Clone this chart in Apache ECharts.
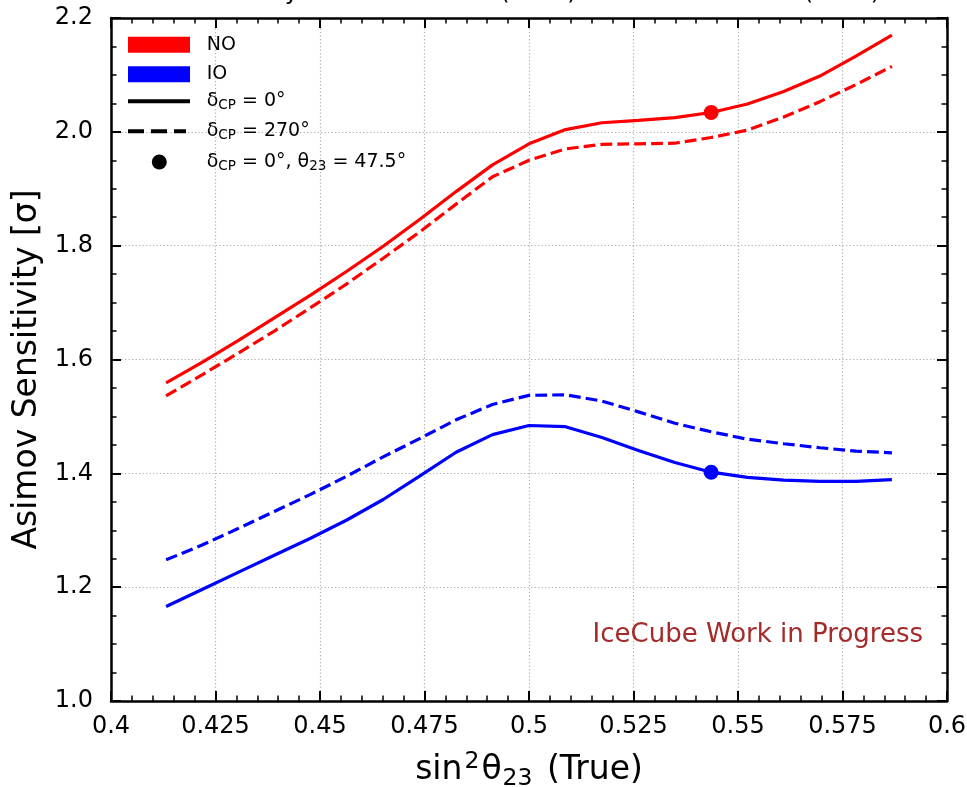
<!DOCTYPE html>
<html>
<head>
<meta charset="utf-8">
<script src="https://cdn.jsdelivr.net/npm/echarts@6/dist/echarts.min.js"></script>
<style>html,body{margin:0;padding:0;background:#fff}#c{width:967px;height:787px}</style>
</head>
<body>
<div id="c"></div>
<script>
// ---- data ----
const sin2Theta23 = [0.41318, 0.42178, 0.43041, 0.43907, 0.44774, 0.45642, 0.46512, 0.47383, 0.48255, 0.49127, 0.50000,
                     0.50873, 0.51745, 0.52617, 0.53490, 0.54358, 0.55226, 0.56093, 0.56959, 0.57822, 0.58682];
const noDelta0   = [1.559, 1.595, 1.633, 1.673, 1.713, 1.755, 1.799, 1.846, 1.895, 1.942, 1.979,
                    2.004, 2.016, 2.020, 2.025, 2.034, 2.049, 2.071, 2.098, 2.133, 2.170];
const noDelta270 = [1.536, 1.573, 1.611, 1.650, 1.691, 1.733, 1.778, 1.824, 1.873, 1.921, 1.950,
                    1.970, 1.978, 1.979, 1.980, 1.990, 2.003, 2.026, 2.053, 2.083, 2.115];
const ioDelta0   = [1.166, 1.196, 1.226, 1.256, 1.286, 1.318, 1.354, 1.395, 1.437, 1.468, 1.484,
                    1.482, 1.463, 1.440, 1.419, 1.402, 1.393, 1.388, 1.386, 1.386, 1.389];
const ioDelta270 = [1.248, 1.274, 1.303, 1.333, 1.363, 1.395, 1.429, 1.461, 1.494, 1.521, 1.537,
                    1.538, 1.527, 1.508, 1.488, 1.473, 1.460, 1.452, 1.445, 1.439, 1.436];
const dotX  = [0.54358];
const dotNO = [2.034];
const dotIO = [1.402];
const xTickValues = [0.4, 0.425, 0.45, 0.475, 0.5, 0.525, 0.55, 0.575, 0.6];
const xTickLabels = ['0.4', '0.425', '0.45', '0.475', '0.5', '0.525', '0.55', '0.575', '0.6'];
const yTickValues = [1.0, 1.2, 1.4, 1.6, 1.8, 2.0, 2.2];
const yTickLabels = ['1.0', '1.2', '1.4', '1.6', '1.8', '2.0', '2.2'];

// ---- chart ----
const FONT = 'DejaVu Sans';
const pairs = (xs, ys) => xs.map((x, i) => [x, ys[i]]);
const pick = (vals, labels) => v => {
  let best = 0;
  for (let i = 1; i < vals.length; i++) if (Math.abs(vals[i] - v) < Math.abs(vals[best] - v)) best = i;
  return labels[best];
};

const axisLine = { show: true, onZero: false, lineStyle: { color: '#000', width: 2.5 } };
const axisTick = { show: true, inside: true, length: 10, lineStyle: { color: '#000', width: 2 } };
const gridLine = { show: true, lineStyle: { color: '#b0b0b0', width: 1.2, type: [1.3, 2.2] } };

const rich = {
  m: { fontSize: 19, fontFamily: FONT, color: '#000', lineHeight: 23 },
  s: { fontSize: 13.5, fontFamily: FONT, color: '#000', lineHeight: 13, verticalAlign: 'bottom' }
};
const legendLabels = {
  'NO': 'NO',
  'IO': 'IO',
  'd0': '{m|δ}{s|CP}{m| = 0°}',
  'd270': '{m|δ}{s|CP}{m| = 270°}',
  'dot': '{m|δ}{s|CP}{m| = 0°, θ}{s|23}{m| = 47.5°}'
};
function legendRow(name, icon, left, top, w, h, padLeft) {
  return {
    data: [{ name: name, icon: icon }],
    left: left, top: top, padding: 0, orient: 'vertical',
    itemWidth: w, itemHeight: h, selectedMode: false,
    formatter: n => legendLabels[n],
    textStyle: { fontSize: 19, fontFamily: FONT, color: '#000', padding: [0, 0, 0, padLeft], rich: rich }
  };
}

const option = {
  animation: false,
  backgroundColor: '#fff',
  title: [
    { text: 'Sensitivity for True Normal (NMO) and True Inverted (NMO)', left: 174, top: -19, padding: 0,
      textStyle: { fontSize: 24, fontWeight: 'normal', fontFamily: FONT, color: '#000' } },
    { text: 'IceCube Work in Progress', right: 44, top: 622, padding: 0,
      textStyle: { fontSize: 26, fontWeight: 'normal', fontFamily: FONT, color: '#a52a2a' } }
  ],
  grid: { left: 111, right: 20, top: 18, bottom: 86, containLabel: false, outerBoundsMode: 'none' },
  legend: [
    legendRow('NO', 'rect', 128, 35.2, 62, 16, 11.7),
    legendRow('IO', 'rect', 128, 64.8, 62, 16, 11.7),
    legendRow('d0', 'rect', 128, 91.8, 62, 4, 11.7),
    legendRow('d270', 'path://M0,0H16V4H0Z M23,0H39V4H23Z M46,0H58V4H46Z', 128, 121.8, 58, 4, 15.7),
    legendRow('dot', 'circle', 151.8, 152.5, 15, 15, 34.9)
  ],
  xAxis: [
    { type: 'value', position: 'bottom', min: 0.4, max: 0.6, interval: 0.025,
      name: '{n|sin}{sup|2}{n|θ}{sub|23}{n| (True)}', nameLocation: 'middle', nameGap: 48.5,
      nameTextStyle: { fontSize: 33, fontFamily: FONT, color: '#000',
        rich: {
          n: { fontSize: 33, fontFamily: FONT, color: '#000', lineHeight: 41 },
          sup: { fontSize: 23.5, fontFamily: FONT, color: '#000', lineHeight: 23, verticalAlign: 'top', padding: [0, 2, 0, 2] },
          sub: { fontSize: 23.5, fontFamily: FONT, color: '#000', lineHeight: 23, verticalAlign: 'bottom', padding: [0, 4, 0, 1] }
        } },
      axisLine: axisLine, axisTick: axisTick,
      minorTick: { show: true, splitNumber: 5, length: 5.5, lineStyle: { color: '#000', width: 1.5 } },
      axisLabel: { show: true, margin: 14, fontSize: 24, fontFamily: FONT, color: '#000',
                   showMinLabel: true, showMaxLabel: true, formatter: pick(xTickValues, xTickLabels) },
      splitLine: gridLine },
    { type: 'value', position: 'top', min: 0.4, max: 0.6, interval: 0.025,
      axisLine: axisLine, axisTick: axisTick,
      minorTick: { show: true, splitNumber: 5, length: 5.5, lineStyle: { color: '#000', width: 1.5 } },
      axisLabel: { show: false }, splitLine: { show: false } }
  ],
  yAxis: [
    { type: 'value', position: 'left', min: 1.0, max: 2.2, interval: 0.2,
      name: 'Asimov Sensitivity [σ]', nameLocation: 'middle', nameGap: 66,
      nameTextStyle: { fontSize: 33, fontFamily: FONT, color: '#000', padding: [0, 20, 0, 0] },
      axisLine: axisLine, axisTick: axisTick,
      minorTick: { show: true, splitNumber: 4, length: 5.5, lineStyle: { color: '#000', width: 1.5 } },
      axisLabel: { show: true, margin: 18, fontSize: 24, fontFamily: FONT, color: '#000',
                   showMinLabel: true, showMaxLabel: true, formatter: pick(yTickValues, yTickLabels) },
      splitLine: gridLine },
    { type: 'value', position: 'right', min: 1.0, max: 2.2, interval: 0.2,
      axisLine: axisLine, axisTick: axisTick,
      minorTick: { show: true, splitNumber: 4, length: 5.5, lineStyle: { color: '#000', width: 1.5 } },
      axisLabel: { show: false }, splitLine: { show: false } }
  ],
  series: [
    { name: 'NO, δCP=0°', type: 'line', xAxisIndex: 0, yAxisIndex: 0, data: pairs(sin2Theta23, noDelta0),
      symbol: 'none', z: 3, lineStyle: { color: '#ff0000', width: 3.2 } },
    { name: 'NO, δCP=270°', type: 'line', xAxisIndex: 0, yAxisIndex: 0, data: pairs(sin2Theta23, noDelta270),
      symbol: 'none', z: 3, lineStyle: { color: '#ff0000', width: 3.2, type: [11.8, 5.1] } },
    { name: 'IO, δCP=0°', type: 'line', xAxisIndex: 0, yAxisIndex: 0, data: pairs(sin2Theta23, ioDelta0),
      symbol: 'none', z: 3, lineStyle: { color: '#0000ff', width: 3.2 } },
    { name: 'IO, δCP=270°', type: 'line', xAxisIndex: 0, yAxisIndex: 0, data: pairs(sin2Theta23, ioDelta270),
      symbol: 'none', z: 3, lineStyle: { color: '#0000ff', width: 3.2, type: [11.8, 5.1] } },
    { name: 'NO point', type: 'scatter', data: pairs(dotX, dotNO), symbol: 'circle', symbolSize: 15, z: 4,
      itemStyle: { color: '#ff0000', opacity: 1 } },
    { name: 'IO point', type: 'scatter', data: pairs(dotX, dotIO), symbol: 'circle', symbolSize: 15, z: 4,
      itemStyle: { color: '#0000ff', opacity: 1 } },
    // legend-only entries
    { name: 'NO', type: 'scatter', data: [], itemStyle: { color: '#ff0000', opacity: 1 } },
    { name: 'IO', type: 'scatter', data: [], itemStyle: { color: '#0000ff', opacity: 1 } },
    { name: 'd0', type: 'scatter', data: [], itemStyle: { color: '#000', opacity: 1 } },
    { name: 'd270', type: 'scatter', data: [], itemStyle: { color: '#000', opacity: 1 } },
    { name: 'dot', type: 'scatter', data: [], itemStyle: { color: '#000', opacity: 1 } }
  ]
};

const chart = echarts.init(document.getElementById('c'), null, { renderer: 'canvas' });
chart.setOption(option);
</script>
</body>
</html>
